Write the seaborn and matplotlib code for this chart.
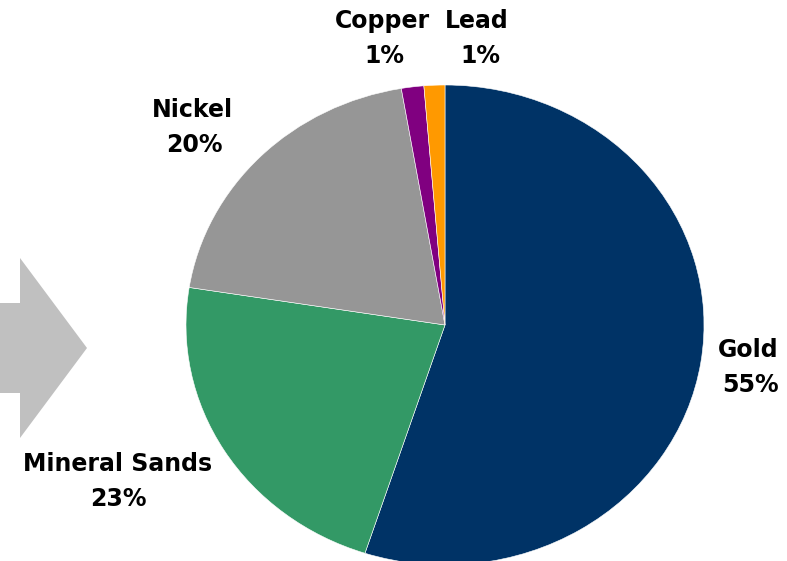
import matplotlib
matplotlib.use("Agg")
import matplotlib.pyplot as plt
from matplotlib.patches import Polygon
import seaborn as sns

# ---- data ----
categories = ["Gold", "Mineral Sands", "Nickel", "Copper", "Lead"]
shares = [55.0, 22.5, 19.8, 1.4, 1.3]
share_labels = ["55%", "23%", "20%", "1%", "1%"]
colors = ["#003366", "#339966", "#969696", "#800080", "#FF9900"]

sns.set_theme(style="white")
plt.rcParams['font.family'] = ['DejaVu Sans']

W, H = 787, 561
fig = plt.figure(figsize=(W / 100, H / 100), dpi=100)

# pie axes (pixel layout: center 445,325 ; rx 259, ry 240)
cx, cy, rx, ry = 445, 325, 259, 240
ax = fig.add_axes([(cx - rx) / W, (H - cy - ry) / H, 2 * rx / W, 2 * ry / H])
wedges, _ = ax.pie(shares, colors=colors, startangle=90, counterclock=False,
                   radius=1.0, wedgeprops=dict(edgecolor="white", linewidth=0.4))
for w in wedges:
    w.set_clip_on(False)
ax.set_aspect('auto')
ax.set_xlim(-1, 1)
ax.set_ylim(-1, 1)
ax.axis('off')

# grey arrow on the left
arrow_px = [(0, 303), (20, 303), (20, 258), (87, 348), (20, 438), (20, 393), (0, 393)]
arrow = Polygon([(x / W, 1 - y / H) for x, y in arrow_px], closed=True,
                facecolor="#C0C0C0", edgecolor="none", transform=fig.transFigure)
fig.add_artist(arrow)

# label positions (pixel centers of the two lines)
label_pos = {
    "Gold": (748, 350),
    "Mineral Sands": (118, 464),
    "Nickel": (192, 110),
    "Copper": (382, 21),
    "Lead": (477, 21),
}
pct_offset = {"Gold": 2, "Mineral Sands": 0, "Nickel": 2, "Copper": 2, "Lead": 3}

for cat, pct in zip(categories, share_labels):
    x, y = label_pos[cat]
    fig.text(x / W, 1 - y / H, cat, ha="center", va="center",
             fontsize=17, fontweight="bold", color="black")
    fig.text((x + pct_offset[cat]) / W, 1 - (y + 35) / H, pct, ha="center", va="center",
             fontsize=17, fontweight="bold", color="black")

fig.savefig("out.png", dpi=100)
